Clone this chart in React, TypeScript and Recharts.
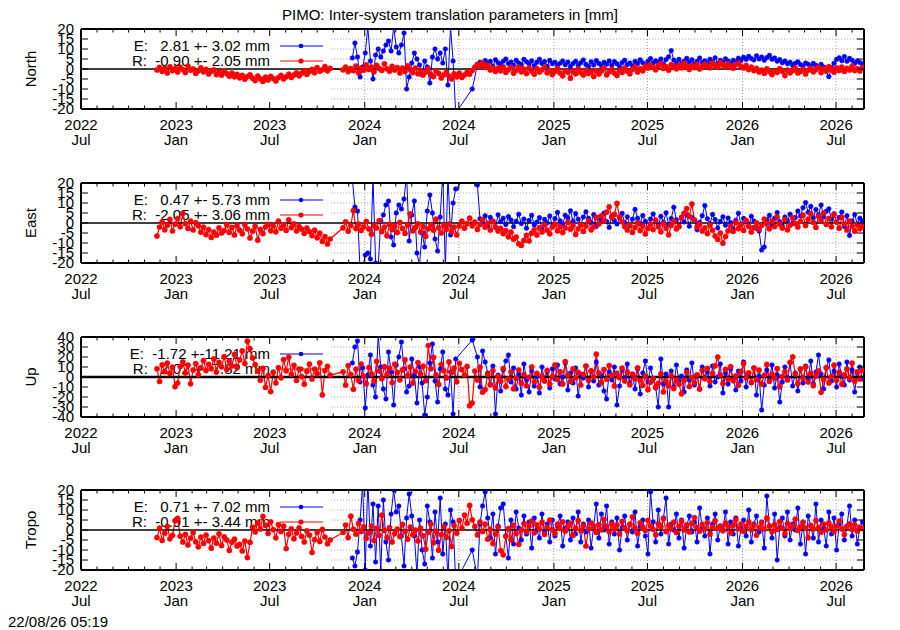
import React from 'react';
import { LineChart, Line, XAxis, YAxis, ReferenceLine } from 'recharts';

const FONT = '"Liberation Sans", Arial, Helvetica, sans-serif';
const FS = 15;
const W = 900;
const H = 630;
const PLOT_L = 81;
const PLOT_R = 864;
const PLOT_H = 80;
const MT = 10;
const MB = 46;
const PANEL_TOPS = [29, 183, 337, 490];
const X_MAX = 1515; // days since 2022-07-01
const GRID_START = 484;

// ---- time axis (days since 2022-07-01) ----
const seq = (a: number, b: number, s: number) => {
  const r: number[] = [];
  for (let d = a; d <= b; d += s) r.push(d);
  return r;
};
const RED_DAYS = [...seq(147, 482, 5), ...seq(507, 1512, 5)];
const BLUE_DAYS = [...seq(525, 725, 5), 757, ...seq(767, 1512, 5)];

const MAJOR_YEARS = ['2022', '2023', '2023', '2024', '2024', '2025', '2025', '2026', '2026'];
const MAJOR_MONTHS = ['Jul', 'Jan', 'Jul', 'Jan', 'Jul', 'Jan', 'Jul', 'Jan', 'Jul'];
const MONTH_IDX: Record<string, number> = { Jan: 0, Jul: 6 };
const dayOf = (y: number, m: number) => Math.round((Date.UTC(y, m, 1) - Date.UTC(2022, 6, 1)) / 86400000);
const MAJOR_DAYS = MAJOR_YEARS.map((y, i) => dayOf(Number(y), MONTH_IDX[MAJOR_MONTHS[i]]));
const ALL_TICKS: number[] = [];
for (let k = 0; k < 50; k++) ALL_TICKS.push(dayOf(2022 + Math.floor((6 + k) / 12), (6 + k) % 12));

// ---- series values (mm) ----
const NORTH_R = [
  -0.5, 0.8, -1.2, 0.3, -2.0, 1.1, -0.8, 0.2, -1.5, 0.9,
  -0.3, -1.8, 1.4, -0.6, 0.1, -2.2, -0.9, 0.6, -1.4, -0.2,
  -2.5, -1.1, -0.4, -2.8, -1.6, -3.1, -0.9, -2.3, -3.6, -2.0,
  -3.9, -2.7, -4.4, -3.2, -5.1, -3.8, -2.9, -4.6, -5.8, -3.5,
  -4.9, -6.2, -4.1, -5.5, -3.7, -4.8, -6.0, -4.3, -3.2, -5.0,
  -3.9, -2.6, -4.2, -3.0, -1.9, -3.4, -2.1, -0.8, -2.7, -1.3,
  -0.2, -1.9, 0.7, -1.1, -0.4, 1.2, -0.9, 0.3,
  -0.4, 1.0, -1.3, 0.2, -0.8, 1.5, -1.9, 0.4, -0.6, 2.1,
  -0.2, 0.9, -1.4, 1.8, 0.3, -0.7, 2.6, 0.1, -1.1, 1.3,
  -0.5, 0.7, -2.0, 0.4, -1.2, 1.6, -0.3, -1.8, 0.5, -2.4,
  -0.9, -3.0, -1.5, 0.2, -2.7, -3.8, -1.0, -2.2, -4.5, -2.9,
  -1.6, -3.5, -5.0, -2.4, -3.9, -2.1, -4.2, -3.0, -1.7, -2.6,
  -0.8, 0.9, 2.3, 1.5, 3.0, 0.8, 1.9, -0.5, 0.6, -1.2,
  0.4, -0.9, 1.1, -1.7, -0.3, 0.7, -2.1, -0.6, 0.9, -1.4,
  -0.1, -2.3, 0.5, -1.0, -2.6, 0.2, -1.5, -0.4, 1.0, -1.9,
  -0.7, -2.8, -1.2, 0.3, -2.0, -3.4, -0.9, -1.6, -4.6, -1.1,
  -2.4, 0.1, -1.8, -3.0, -0.6, -2.2, -1.3, -3.7, -0.8, -2.5,
  -1.0, 0.4, -2.9, -1.4, -0.2, -2.0, -3.2, -0.7, -1.7, 0.6,
  -1.1, -2.4, -0.3, 0.9, -1.5, 0.2, -0.9, 1.4, 0.5, 2.0,
  0.8, -0.4, 1.7, 2.6, 0.3, 1.2, -0.6, 2.2, 1.0, 0.1,
  1.9, 0.6, 2.8, 1.3, -0.2, 1.6, 0.7, 2.3, 0.0, 1.1,
  2.5, 1.4, 0.6, 2.9, 1.8, 0.9, 3.2, 2.0, 1.0, 2.6,
  1.5, 0.4, 2.2, 3.0, 1.2, 0.5, 1.8, -0.3, 0.9, -0.8,
  0.3, -1.5, -0.6, -2.2, 0.1, -1.3, -2.8, -0.9, -1.7, 0.2,
  -1.1, -3.3, -0.5, -1.9, -0.8, 0.4, -2.0, -1.2, -0.2, -2.5,
  -0.6, 0.5, -1.4, -0.3, 0.8, -1.8, 0.1, -0.9, 1.2, -0.4,
  -1.6, 0.6, -0.7, 1.0, -1.2, 0.3, -0.5, 1.5, -0.8, 0.2,
  -1.0, 0.7,
];
const NORTH_E = [
  5.5, 13, 6, -4, 1, 8, 21, 4, -5, 7,
  10, 6, 9, 12, 14, 9, 21, 11, 8, 12,
  18, -10, -4, 3, 8, 5, 2, -3, 4, 1,
  -7, 6, 10, 5, 8, 3, 10, -8, 21, 4,
  -22, -10,
  2.0, 3.4, 1.8, 4.2, 2.9, 3.8, 1.5, 4.6, 3.1, 2.4,
  3.9, 5.0, 2.7, 3.5, 1.9, 4.4, 3.0, 2.2, 4.8, 3.6,
  2.5, 4.1, 1.6, 3.3, 4.9, 2.8, 3.7, 1.3, 4.3, 2.6,
  3.4, 1.7, 2.9, 4.0, 2.1, 3.5, 1.2, 2.7, 3.9, 1.8,
  3.1, 4.5, 2.3, 1.4, 3.6, 2.0, 4.2, 2.8, 1.6, 3.3,
  2.4, 4.0, 1.9, 3.7, 2.6, 1.1, 3.2, 4.4, 2.2, 3.0,
  1.5, 3.8, 2.7, 4.6, 3.1, 2.0, 3.9, 5.2, 2.9, 4.1,
  3.3, 5.0, 2.6, 4.7, 6.1, 9.2, 4.5, 3.0, 4.8, 2.7,
  3.9, 5.3, 3.4, 4.6, 2.5, 3.8, 5.5, 3.2, 4.1, 2.9,
  4.9, 3.6, 5.6, 2.8, 4.3, 3.5, 5.1, 4.0, 2.6, 4.4,
  3.7, 5.4, 4.2, 5.9, 4.8, 6.3, 5.2, 4.5, 6.6, 5.0,
  6.0, 4.4, 5.7, 6.8, 4.9, 5.5, 3.9, 4.7, 3.1, 4.0,
  2.6, 3.4, 1.8, 2.9, 3.6, 2.2, 1.5, 3.0, 2.4, 1.2,
  2.8, 1.9, 0.8, 2.3, 1.0, -1.2, -3.8, 0.6, 2.9, 4.8,
  5.6, 4.1, 6.2, 3.9, 5.3, 4.4, 2.8, 4.0, 3.2, 2.5,
];
const EAST_R = [
  -6.5, -2.0, 0.5, -3.4, -1.1, 1.8, -4.0, -0.6, 2.2, -1.9,
  4.8, -0.3, -2.7, 1.0, -3.5, 0.2, -1.4, -4.6, -2.1, -5.8,
  -3.3, -7.2, -4.5, -6.1, -2.4, -5.0, -3.8, -0.9, -4.7, -2.2,
  -6.0, -1.3, -3.6, -5.4, -0.8, -2.9, -7.5, -4.1, -1.7, -8.6,
  -3.2, -5.3, -2.0, -0.7, -3.9, -1.5, -4.4, 0.9, -2.6, -1.0,
  -3.7, 1.6, -2.3, -0.4, -4.0, -1.8, -3.1, -5.2, -2.5, -4.3,
  -6.3, -3.6, -7.4, -5.1, -9.2, -6.8, -10.5, -8.0,
  -2.4, 0.6, -4.1, -1.3, 6.2, -2.8, -0.5, -3.7, -1.9, 0.8,
  -3.0, -5.6, -1.4, -2.5, 1.2, -4.3, -2.0, -6.4, -0.7, -3.3,
  -1.6, -4.8, 0.3, -2.7, -5.2, -1.1, 4.6, -3.9, -2.2, -0.4,
  -4.5, -1.8, -6.7, -2.9, -0.9, -3.6, 1.9, -2.4, -5.0, -1.2,
  -3.1, -0.5, -4.4, -2.0, -6.0, -1.5, 0.9, -2.6, -0.3, 2.4,
  -1.4, 0.5, -3.2, -0.8, 1.7, -2.1, -0.2, -3.5, 0.8, -1.9,
  -4.0, -2.7, -5.3, -3.8, -6.9, -4.6, -8.1, -7.0, -10.4, -11.2,
  -8.7, -6.2, -9.0, -5.1, -3.4, -6.0, -2.3, -4.5, -1.0, -3.6,
  -5.4, -2.0, -0.6, -3.9, -1.7, -4.8, -2.5, 0.4, -3.1, -1.3,
  -5.7, -2.9, -0.8, -4.2, -1.6, 1.1, -3.4, -2.0, 2.8, -0.5,
  3.6, 1.0, 5.4, 8.1, 2.7, 4.3, 9.8, 3.0, 0.6, -1.8,
  -3.5, -0.9, -4.7, -2.2, 0.2, -3.8, -1.4, -5.5, -2.7, -0.6,
  -3.3, 1.4, -1.9, -4.4, -0.3, -2.6, -5.9, -1.2, 0.8, -3.0,
  -1.7, 2.5, 4.9, 7.2, 3.3, 9.5, 1.6, -2.1, -0.7, -4.0,
  -2.4, -5.3, -1.0, -3.6, -6.5, -8.2, -5.0, -10.1, -6.8, -3.9,
  -1.5, -4.2, 0.4, -2.8, -0.9, -3.7, 1.3, -1.6, -4.5, -2.3,
  0.1, -3.1, -1.2, 2.0, -0.4, -2.9, 0.9, -1.8, 3.1, -0.6,
  -2.5, 1.7, -3.4, -1.1, 2.6, -0.2, -2.0, 0.8, 3.9, -1.3,
  1.9, 4.6, 0.3, -2.2, 3.4, 1.2, 5.0, -0.7, 2.3, -1.9,
  4.2, 0.5, -2.6, 2.8, -0.4, -3.5, 1.0, -1.7, -4.1, -0.8,
  -2.9, -1.6,
];
const EAST_E = [
  22, 8, 6, -24, -22, -16, -15, -18, 23, -20,
  -22, 1, 4, 9, 11, -7, -11, 5, 9, 7,
  12, 24, -9, 4, 11, -15, -21, -5, -12, 6,
  14, 5, -8, -14, 3, 25, -23, 24, -6, 10,
  17, 27,
  19, 2.1, 0.4, 3.6, -1.2, 2.8, 1.0, -2.3, 4.1, 0.6,
  2.4, -0.8, 3.2, 1.5, -1.9, 0.9, 4.4, -0.3, 2.0, -2.6,
  1.3, 3.8, -1.0, 0.5, 2.7, -3.1, 1.8, 0.0, 3.5, -1.5,
  2.2, 5.3, 1.1, -0.6, 3.9, 2.5, 6.1, 0.8, 4.7, 1.9,
  -0.9, 3.0, 5.6, 2.3, 0.2, 4.2, -1.7, 2.9, 1.4, 5.0,
  0.7, -2.2, 3.4, 1.2, -0.5, 2.6, 4.8, 0.1, 3.1, -1.4,
  1.9, 6.8, 2.4, -0.2, 3.7, 0.9, -2.9, 2.0, 4.5, 1.0,
  -1.3, 3.3, 0.4, 5.1, -0.7, 2.2, 7.9, 1.6, -2.0, 3.0,
  0.5, 4.0, -1.6, 2.7, 1.1, -3.4, 0.3, 3.6, 8.7, 2.1,
  -0.4, 4.3, 1.7, -2.5, 0.8, 3.1, -1.1, 2.5, 0.2, -3.0,
  1.4, 4.9, -0.6, 2.3, 0.7, -1.9, 3.4, 1.0, -2.7, -4.0,
  -13.5, -12.0, 1.6, 3.8, -0.9, 2.4, 5.2, 0.6, -1.5, 3.0,
  1.2, 4.4, -0.3, 2.7, 6.0, 3.5, 7.6, 10.2, 5.4, 8.3,
  2.6, 6.7, 4.1, 9.0, 3.2, 5.8, 7.1, 1.9, 4.6, 0.4,
  2.8, 5.5, -1.8, 3.6, -6.2, 1.0, 4.2, -0.5, 2.4, 0.9,
];
const UP_R = [
  8.2, -4.5, 12.1, 5.3, 14.0, 3.6, 9.8, -9.7, -6.0, 10.5,
  15.2, 4.1, 11.8, -6.8, 7.0, 13.4, 2.2, 9.1, 16.5, 6.4,
  12.7, 8.3, 18.1, 4.9, 14.6, 10.2, 20.3, 7.5, 15.8, 11.0,
  22.6, 9.4, 17.2, 26.1, 13.5, 35.8, 28.4, 19.0, 12.3, 6.1,
  -3.2, 8.7, -10.4, 1.5, -14.6, 4.8, -5.9, 9.3, -0.8, 17.4,
  6.2, 19.8, 2.7, 11.6, -3.5, 7.9, 0.4, -7.2, 5.6, 12.9,
  -2.1, 8.0, 3.3, 14.2, -17.9, 6.5, 10.7, 1.8,
  5.2, -8.1, 11.4, 2.6, -12.3, 7.8, -3.4, 13.0, 0.9, -6.7,
  9.5, 3.1, -4.2, 15.6, 6.0, -1.8, 10.3, 2.4, 8.7, -5.5,
  12.8, 4.6, -2.9, 7.1, 17.2, 1.3, 9.9, -6.1, 5.7, 14.4,
  3.0, 10.8, -3.7, 31.5, 8.2, 19.6, 2.1, -7.4, 12.5, 6.3,
  -1.0, 15.1, 4.4, 9.0, -4.8, 13.7, 7.3, 2.0, 10.6, -28.7,
  -26.0, 5.9, -3.1, 9.8, -15.2, -12.6, 2.8, -7.5, 6.4, -10.9,
  0.7, -4.3, 8.5, -9.6, -2.0, 4.9, -11.8, -1.4, 7.0, -6.2,
  2.5, -8.8, -0.3, 10.1, -5.0, 3.6, -10.3, 1.2, -3.9, 6.6,
  -7.1, 0.4, 12.0, -2.6, 5.3, -6.9, 15.4, 1.9, -4.5, 8.1,
  -1.1, 4.7, -8.0, 2.3, 10.9, -3.3, 6.1, 0.0, 22.8, 4.0,
  -5.7, 7.4, -2.2, 11.5, 1.6, -9.1, 3.8, -0.7, 8.9, -4.1,
  5.0, -7.8, 2.9, -1.9, 9.2, -3.6, -8.4, 0.8, -12.7, -5.2,
  -1.5, -10.2, -6.3, 3.1, -14.9, -4.0, -8.9, 1.4, -11.6, -2.8,
  -7.2, -16.8, -3.4, 4.5, -9.5, -0.6, -5.8, 2.2, -12.1, 6.7,
  -1.8, 8.6, -4.6, 3.4, 11.2, 19.9, 2.0, -6.5, 7.7, -2.3,
  10.4, -3.7, 1.1, -8.3, 5.6, 13.3, -0.9, 4.2, -5.4, 9.0,
  -2.7, 6.8, -7.0, 1.7, 12.6, -4.4, 3.0, -1.2, 8.3, -9.8,
  0.6, 5.4, -3.0, 14.7, 20.1, 2.9, -6.6, 7.9, -1.6, 10.0,
  -4.9, 3.7, -8.7, 1.0, 6.2, -15.3, -2.4, 9.4, -5.9, 0.3,
  11.8, -3.2, 4.6, -7.3, 2.1, 8.0, -1.0, 13.9, -4.3, 5.1,
  -2.0, 6.9,
];
const UP_E = [
  14, 30, 36, -5, 9, -31, 2, 22, -8, -20,
  42, 10, -12, -22, 25, 5, -28, 12, 20, 35,
  8, -15, -9, 18, 2, -26, 10, -6, -38, -20,
  14, 33, -4, -25, 8, 25, -12, -18, 5, -37,
  18, 37,
  20, -10, 26, 15, 4, -8, 11, -37, 2, -14,
  7, 16, 22, -5, 9, -12, 3, -18, 13, -3,
  -15, 6, -9, 1, -16, 10, -4, 5, -11, 8,
  -2, 12, -7, 0, 14, -13, 4, -6, 9, -19,
  3, -1, 11, -10, 6, -4, 15, -8, 2, -14,
  -22, 5, -3, 10, -28, -9, 7, -1, 13, -6,
  1, -12, 8, -17, 4, 16, -5, 9, -2, -11,
  -30, 18, -7, 3, -30, 6, -10, 12, -4, 1,
  -15, 7, -3, 14, -8, 2, -12, 10, -1, 5,
  -9, 11, -5, 0, 13, -16, 4, -7, 8, -2,
  -13, 6, -4, 15, -10, 3, -6, 9, -18, 1,
  -33, -8, 7, -3, 12, -11, 2, -25, -5, 10,
  -1, 14, -9, 4, -14, 8, -6, 11, -2, 16,
  -7, 5, 22, 3, -12, 9, 17, -4, 6, -10,
  13, 1, -8, 15, -3, 7, -15, 4, 10, -2,
];
const TROPO_R = [
  -3.8, 0.9, -5.2, -1.6, 1.8, -4.4, -2.7, 4.6, 5.8, -3.1,
  -6.0, -2.2, -7.5, -4.1, -1.3, -5.9, -8.4, -3.6, -6.7, -2.5,
  -5.3, -9.1, -4.0, -6.6, -1.9, -7.8, -3.4, -5.0, -10.2, -6.1,
  -4.6, -8.0, -7.2, -10.5, -5.5, -13.8, -6.2, 1.4, -1.0, 3.6,
  0.5, 6.8, 2.3, -1.7, 4.1, 0.2, -3.9, 2.7, -0.8, 1.9,
  -9.3, -2.1, 0.6, -4.4, -1.5, 1.1, -3.2, -6.0, -0.4, -2.6,
  -11.2, -4.8, -1.2, -5.7, 0.3, -3.5, -6.9, -5.0,
  -1.2, 2.5, -3.8, 6.9, 0.4, -2.1, 3.3, -0.7, 1.6, -4.2,
  -1.5, 2.0, -5.3, 0.8, -2.7, 7.4, -0.2, -3.9, 1.2, -6.0,
  -1.8, 0.5, -3.3, 2.8, -0.9, -4.6, 1.5, -2.4, -0.1, -5.5,
  0.9, -2.9, -9.6, -1.1, 3.0, -6.4, -0.6, -10.1, -2.3, 1.7,
  -3.7, -0.4, -8.2, 2.2, -1.6, 4.8, 1.0, 7.5, 3.4, 12.3,
  5.1, 1.8, -2.5, 4.0, -0.8, 2.9, -4.6, 0.3, -6.8, -2.0,
  1.5, -10.3, -12.4, -3.1, 0.7, -5.0, 2.4, -1.7, -7.2, 0.1,
  3.2, -0.9, 1.9, 4.5, -1.4, 2.6, 0.5, 3.8, -2.2, 1.3,
  5.0, 0.2, -1.8, 2.9, 0.8, 4.1, -0.6, 1.7, 3.3, -2.7,
  1.0, 4.7, -0.3, 2.2, -8.0, 0.6, 3.5, 1.4, -1.2, 2.7,
  0.1, 5.3, 1.8, -0.9, 3.0, 0.4, 2.5, -2.0, 4.3, 1.1,
  -0.5, 2.8, 6.6, 0.9, -1.7, 3.6, 1.5, -0.2, 4.8, 2.1,
  0.3, -2.4, 3.1, 1.6, 5.7, -0.8, 2.3, 0.7, 3.9, -1.3,
  1.9, 4.4, 0.0, 2.6, -1.0, 3.3, 6.2, 1.2, -0.6, 2.8,
  0.5, 3.7, -2.1, 1.4, 4.6, 0.8, 2.0, -0.4, 3.5, 1.7,
  -1.5, 2.4, 5.1, 0.6, 3.0, -0.7, 1.8, 4.0, 0.2, 2.5,
  -2.6, 1.1, 3.6, 0.4, 6.0, 1.9, -0.9, 2.7, 0.3, 4.2,
  1.0, -1.8, 3.2, 0.7, 2.1, 5.4, -0.2, 1.6, 3.8, 0.9,
  -3.9, 2.3, 0.5, 4.7, 1.3, -1.1, 2.9, 0.0, 3.4, 1.5,
  -0.8, 2.0, 4.4, 0.6, -2.3, 1.7, 3.1, 0.2, 2.6, -0.5,
  1.4, 0.8,
];
const TROPO_E = [
  -14, -18, -11, 5, 23, -20, 25, -8, 13, -16,
  12, -21, 15, -6, -15, 8, 20, 9, 12, -3,
  -18, 6, 18, 7, -3, -22, 5, -10, -17, 12,
  4, -14, 9, -6, 16, -12, 3, -25, 10, 4,
  -26, -10,
  -24, 3, 12, 19, 6, -4, 8, -12, 2, 11,
  13, -3, -14, 5, -7, 9, 1, -5, 7, -2,
  4, -9, 6, 0, -4, 8, -1, 3, -6, 5,
  -3, 2, 7, -8, 1, 4, -5, 6, -2, 9,
  -6, 3, -1, 5, -9, 2, 13, -4, 8, 0,
  12, -7, 4, -2, 6, -10, 1, 7, -5, 3,
  -1, 9, -8, 2, 5, -3, -12, 19, 4, -6,
  10, -2, 6, 16, -7, 3, 0, 8, -4, 5,
  -9, 2, 7, -1, 4, -6, 11, 1, -3, 6,
  -12, 3, 8, -5, 2, 0, 9, -7, 4, -2,
  6, -8, 1, 5, -3, 10, -6, 3, 7, -1,
  4, -9, 17, 2, -4, 8, -15, 1, 6, -3,
  9, -5, 3, 0, 11, -7, 4, -12, 7, 2,
  -4, 13, -6, 5, 1, -8, 9, -2, 6, -10,
  3, 8, -5, 2, 12, -3, 5, -7, 1, 4,
];

// ---- panel descriptions ----
const PANEL_NAMES = ['North', 'East', 'Up', 'Tropo'];
const PANEL_LIMITS = [20, 20, 40, 20];
const PANEL_STEPS = [5, 5, 10, 5];
const LEGEND_E = ['E:   2.81 +- 3.02 mm', 'E:   0.47 +- 5.73 mm', 'E:  -1.72 +-11.21 mm', 'E:   0.71 +- 7.02 mm'];
const LEGEND_R = ['R:  -0.90 +- 2.05 mm', 'R:  -2.05 +- 3.06 mm', 'R:   2.02 +- 7.82 mm', 'R:  -0.91 +- 3.44 mm'];
const SERIES_R = [NORTH_R, EAST_R, UP_R, TROPO_R];
const SERIES_E = [NORTH_E, EAST_E, UP_E, TROPO_E];
const TITLE = 'PIMO: Inter-system translation parameters in [mm]';
const STAMP = '22/08/26 05:19';

const BLUE = '#0000ff';
const RED = '#ff0000';
const GRID = '#a0a0a0';

const mk = (days: number[], vals: number[]) =>
  vals.filter((_, i) => i < days.length).map((v, i) => ({ d: days[i], v }));

function Panel({ idx }: { idx: number }) {
  const lim = PANEL_LIMITS[idx];
  const step = PANEL_STEPS[idx];
  const yTicks: number[] = [];
  for (let v = -lim; v <= lim; v += step) yTicks.push(v);
  const chartH = MT + PLOT_H + MB;
  const pb = MT + PLOT_H;
  const red = mk(RED_DAYS, SERIES_R[idx]);
  const blue = mk(BLUE_DAYS, SERIES_E[idx]);
  const frame = { stroke: '#000', strokeWidth: 2 };

  const xTickBottom = (p: any) => {
    const v = p.payload.value;
    const mi = MAJOR_DAYS.indexOf(v);
    const x = p.x;
    return (
      <g>
        <line x1={x} x2={x} y1={pb} y2={pb - (mi >= 0 ? 7 : 3.5)} stroke="#000" strokeWidth={1} />
        {mi >= 0 && (
          <text x={x} y={pb + 21} textAnchor="middle" fontFamily={FONT} fontSize={FS} fill="#000">
            {MAJOR_YEARS[mi]}
          </text>
        )}
        {mi >= 0 && (
          <text x={x} y={pb + 36} textAnchor="middle" fontFamily={FONT} fontSize={FS} fill="#000">
            {MAJOR_MONTHS[mi]}
          </text>
        )}
      </g>
    );
  };
  const xTickTop = (p: any) => {
    const v = p.payload.value;
    const major = MAJOR_DAYS.indexOf(v) >= 0;
    return <line x1={p.x} x2={p.x} y1={MT} y2={MT + (major ? 7 : 3.5)} stroke="#000" strokeWidth={1} />;
  };
  const yTickLeft = (p: any) => (
    <g>
      <line x1={PLOT_L} x2={PLOT_L + 7} y1={p.y} y2={p.y} stroke="#000" strokeWidth={1} />
      <text x={PLOT_L - 7} y={p.y + 5} textAnchor="end" fontFamily={FONT} fontSize={FS} fill="#000">
        {p.payload.value}
      </text>
    </g>
  );
  const yTickRight = (p: any) => (
    <line x1={PLOT_R} x2={PLOT_R - 7} y1={p.y} y2={p.y} stroke="#000" strokeWidth={1} />
  );

  const gridY = yTicks.filter((v) => v !== 0 && Math.abs(v) !== lim);
  const gridX = MAJOR_DAYS.filter((d) => d > GRID_START);

  return (
    <div style={{ position: 'absolute', left: 0, top: PANEL_TOPS[idx] - MT, width: W, height: chartH }}>
      <LineChart
        width={W}
        height={chartH}
        margin={{ top: MT - 1, right: W - PLOT_R - 1, bottom: MB - 1, left: PLOT_L - 1 }}
      >
        <XAxis
          dataKey="d"
          type="number"
          domain={[0, X_MAX]}
          allowDataOverflow
          ticks={ALL_TICKS}
          interval={0}
          height={1}
          tickSize={0}
          tickMargin={0}
          tickLine={false}
          axisLine={frame}
          tick={xTickBottom}
        />
        <XAxis
          xAxisId="top"
          orientation="top"
          dataKey="d"
          type="number"
          domain={[0, X_MAX]}
          allowDataOverflow
          ticks={ALL_TICKS}
          interval={0}
          height={1}
          tickSize={0}
          tickMargin={0}
          tickLine={false}
          axisLine={frame}
          tick={xTickTop}
        />
        <YAxis
          type="number"
          domain={[-lim, lim]}
          allowDataOverflow
          ticks={yTicks}
          interval={0}
          width={1}
          tickSize={0}
          tickMargin={0}
          tickLine={false}
          axisLine={frame}
          tick={yTickLeft}
        />
        <YAxis
          yAxisId="right"
          orientation="right"
          type="number"
          domain={[-lim, lim]}
          allowDataOverflow
          ticks={yTicks}
          interval={0}
          width={1}
          tickSize={0}
          tickMargin={0}
          tickLine={false}
          axisLine={frame}
          tick={yTickRight}
        />
        {gridY.map((v) => (
          <ReferenceLine
            key={'gy' + v}
            segment={[{ x: GRID_START, y: v }, { x: X_MAX, y: v }]}
            stroke={GRID}
            strokeWidth={1}
            strokeDasharray="1 2"
          />
        ))}
        {gridX.map((d) => (
          <ReferenceLine key={'gx' + d} x={d} stroke={GRID} strokeWidth={1} strokeDasharray="1 2" />
        ))}
        <Line
          data={blue}
          dataKey="v"
          stroke={BLUE}
          strokeWidth={1}
          dot={{ r: 2.3, fill: BLUE, stroke: BLUE, strokeWidth: 0.5 }}
          activeDot={false}
          isAnimationActive={false}
        />
        <Line
          data={red}
          dataKey="v"
          stroke={RED}
          strokeWidth={1.2}
          dot={{ r: 2.6, fill: RED, stroke: RED, strokeWidth: 0.5 }}
          activeDot={false}
          isAnimationActive={false}
        />
        <ReferenceLine y={0} stroke="#000" strokeWidth={idx === 2 ? 2.5 : 1.5} />
      </LineChart>
    </div>
  );
}

function Background() {
  return (
    <svg width={W} height={H} style={{ position: 'absolute', left: 0, top: 0 }}>
      <text x={450} y={20} textAnchor="middle" fontFamily={FONT} fontSize={FS} fill="#000">
        {TITLE}
      </text>
      {PANEL_NAMES.map((name, i) => {
        const t = PANEL_TOPS[i];
        return (
          <g key={name}>
            <text
              transform={`translate(36, ${t + 40}) rotate(-90)`}
              textAnchor="middle"
              fontFamily={FONT}
              fontSize={FS}
              fill="#000"
            >
              {name}
            </text>
            <text x={270} y={t + 22} textAnchor="end" fontFamily={FONT} fontSize={FS} fill="#000" style={{ whiteSpace: 'pre' }}>
              {LEGEND_E[i]}
            </text>
            <text x={270} y={t + 37} textAnchor="end" fontFamily={FONT} fontSize={FS} fill="#000" style={{ whiteSpace: 'pre' }}>
              {LEGEND_R[i]}
            </text>
            <line x1={280} x2={323} y1={t + 17} y2={t + 17} stroke={BLUE} strokeWidth={1} />
            <circle cx={301} cy={t + 17} r={2.3} fill={BLUE} />
            <line x1={280} x2={323} y1={t + 32} y2={t + 32} stroke={RED} strokeWidth={1} />
            <circle cx={301} cy={t + 32} r={2.6} fill={RED} />
          </g>
        );
      })}
      <text x={8} y={627} fontFamily={FONT} fontSize={FS} fill="#000">
        {STAMP}
      </text>
    </svg>
  );
}

export default function App() {
  return (
    <div style={{ position: 'absolute', left: 0, top: 0, width: W, height: H, background: '#fff', overflow: 'hidden' }}>
      <Background />
      {PANEL_NAMES.map((n, i) => (
        <Panel key={n} idx={i} />
      ))}
    </div>
  );
}
